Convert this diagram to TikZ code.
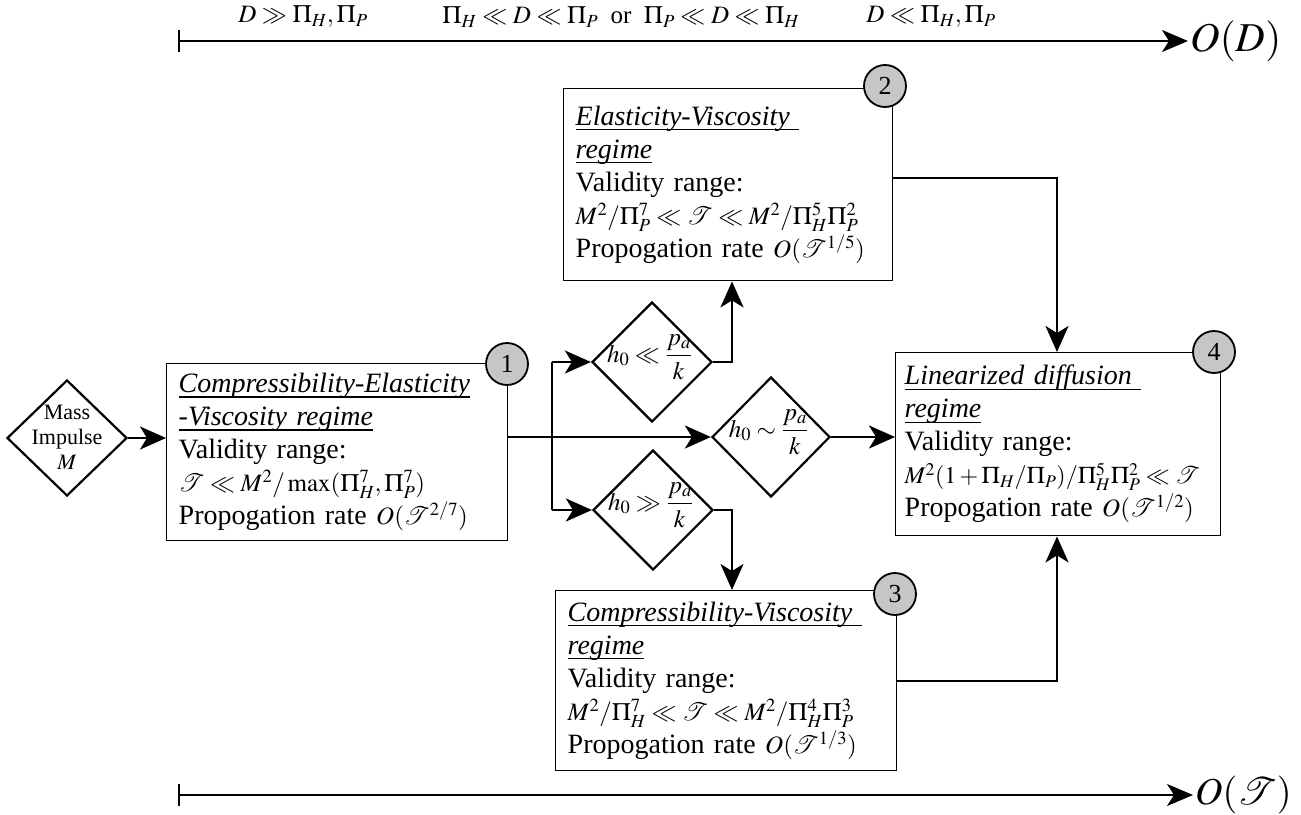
\documentclass[tikz,border=0pt]{standalone}
\usepackage{mathptmx}
\usepackage{fontspec}
\setmainfont{Liberation Serif}
\usetikzlibrary{arrows.meta,shapes.geometric}
\newcommand{\ttl}[1]{\leavevmode\setbox0\hbox{\textit{#1}}\rlap{\rule[-5pt]{\wd0}{1.3pt}}\box0}
\newcommand{\fml}[1]{{\fontsize{25}{33}\selectfont\mbox{$#1$}}}
\newcommand{\zc}[1]{\smash{\makebox[0pt]{#1}}}
\begin{document}
\begin{tikzpicture}[x=1pt,y=-1pt,
  every node/.style={inner sep=0pt},
  regbox/.style={draw=black, line width=1.4pt, rectangle, anchor=north west, align=left, inner xsep=12pt, inner ysep=0pt, font=\fontsize{28}{33}\selectfont},
  cond/.style={draw, line width=2.2pt, diamond, aspect=1, inner sep=0pt, font=\fontsize{25}{28}\selectfont},
  num/.style={draw, line width=1.8pt, circle, fill=gray!45, minimum size=42pt, inner sep=0pt, font=\fontsize{26}{26}\selectfont},
  conn/.style={line width=2.4pt, -{Stealth[length=26pt,width=23pt,inset=7pt]}},
  link/.style={line width=2.4pt},
  axis/.style={line width=2pt, {Bar[width=22pt,line width=2.4pt]}-{Stealth[length=26pt,width=22pt,inset=7pt]}},
  lab/.style={font=\fontsize{25}{25}\selectfont},
]
\useasboundingbox (0,0) rectangle (1301,814);

% axes
\coordinate (a0) at (178,41);
\coordinate (a1) at (1188,41);
\draw[axis] (a0) -- (a1);
\node[anchor=west, font=\fontsize{41}{41}\selectfont] (od) at ([xshift=2pt]a1) {$O(D)$};
\coordinate (b0) at (178,795);
\coordinate (bb1) at (1193,795);
\draw[axis] (b0) -- (bb1);
\node[anchor=west, font=\fontsize{38}{38}\selectfont] (ot) at ([xshift=2pt]bb1) {$O(\mathcal{T})$};

\node[lab] (l1) at (303,17) {$D\gg\Pi_H,\Pi_P$};
\node[lab] (l2) at (621,17) {$\Pi_H\ll D\ll\Pi_P$\ \ or\ \ $\Pi_P\ll D\ll\Pi_H$};
\node[lab] (l3) at (931,17) {$D\ll\Pi_H,\Pi_P$};

% boxes
\node[regbox, text width=317pt, minimum height=177pt] (b1) at (166,363)
  {\ttl{Compressibility-Elasticity}\\ \ttl{-Viscosity regime}\\ Validity range:\\
   \fml{\mathcal{T}\ll M^2/\max(\Pi_H^7,\Pi_P^7)}\\ Propogation rate \fml{O(\mathcal{T}^{2/7})}};
\node[regbox, text width=305pt, minimum height=192pt] (b2) at (563,88)
  {\ttl{Elasticity-Viscosity\ }\\ \ttl{regime}\\ Validity range:\\
   \fml{M^2/\Pi_P^7\ll\mathcal{T}\ll M^2/\Pi_H^5\Pi_P^2}\\ Propogation rate \fml{O(\mathcal{T}^{1/5})}};
\node[regbox, text width=317pt, minimum height=180pt] (b3) at (555,590)
  {\ttl{Compressibility-Viscosity\ }\\ \ttl{regime}\\ Validity range:\\
   \fml{M^2/\Pi_H^7\ll\mathcal{T}\ll M^2/\Pi_H^4\Pi_P^3}\\ Propogation rate \fml{O(\mathcal{T}^{1/3})}};
\node[regbox, inner xsep=9pt, text width=307pt, minimum height=183pt] (b4) at (895,352)
  {\ttl{Linearized diffusion\ }\\ \ttl{regime}\\ Validity range:\\
   {\fontsize{24}{33}\selectfont\mbox{$M^2(1+\Pi_H/\Pi_P)/\Pi_H^5\Pi_P^2\ll\mathcal{T}$}}\\ Propogation rate \fml{O(\mathcal{T}^{1/2})}};

% diamonds
\node[cond, minimum width=120pt, minimum height=116pt] (m) at (67,438)
  {\zc{\raisebox{-7pt}{\fontsize{22}{25}\selectfont\begin{tabular}{@{}c@{}}Mass\\Impulse\\$M$\end{tabular}}}};
\node[cond, minimum width=120pt, minimum height=120pt] (du) at (652,362)
  {\zc{\hspace*{-5pt}$\displaystyle h_0\ll\frac{p_a}{k}$}};
\node[cond, minimum width=118pt, minimum height=120pt] (dm) at (771,437)
  {\zc{\hspace*{-5pt}$\displaystyle h_0\sim\frac{p_a}{k}$}};
\node[cond, minimum width=120pt, minimum height=120pt] (dl) at (653,510)
  {\zc{\hspace*{-5pt}$\displaystyle h_0\gg\frac{p_a}{k}$}};

% helper coordinates
\coordinate (br) at (552,437);
\coordinate (tx) at (732,0);
\coordinate (rx) at (1057,0);

% connectors
\draw[conn] (m.east) -- (m.east -| b1.west);
\draw[conn] (dm.west -| b1.east) -- (dm.west);
\draw[link] (du.west -| br) -- (dl.west -| br);
\draw[conn] (du.west -| br) -- (du.west);
\draw[conn] (dl.west -| br) -- (dl.west);
\draw[conn] (du.east) -- (du.east -| tx) -- (tx |- b2.south);
\draw[conn] (dl.east) -- (dl.east -| tx) -- (tx |- b3.north);
\draw[conn] (dm.east) -- (dm.east -| b4.west);
\draw[conn] ([yshift=7pt]b2.east) -- ([yshift=7pt]b2.east -| rx) -- (rx |- b4.north);
\draw[conn] (b3.east) -- (b3.east -| rx) -- (rx |- b4.south);

% numbered circles
\node[num] (c1) at (507,364) {1};
\node[num] (c2) at (885,86) {2};
\node[num] (c3) at (895,594) {3};
\node[num] (c4) at (1214,352) {4};
\end{tikzpicture}
\end{document}
